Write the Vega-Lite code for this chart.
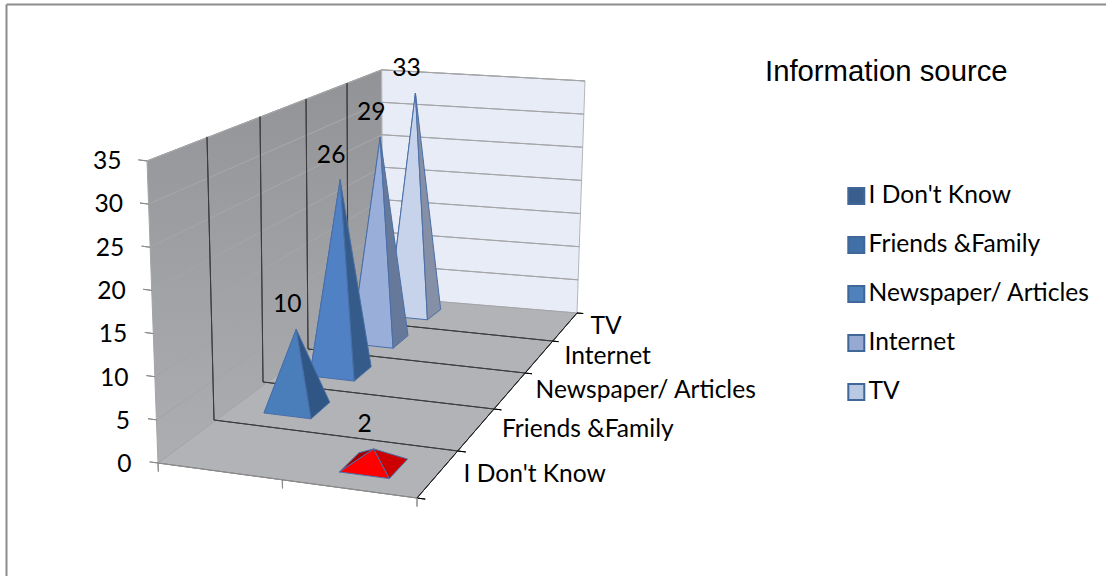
{
"$schema":"https://vega.github.io/schema/vega-lite/v6.json",
"width":1100,"height":572,"autosize":{"type":"none"},"padding":{"left":6,"top":4,"right":0,"bottom":0},
"background":"#ffffff",
"config":{"view":{"stroke":null},"font":"Lato"},
"params":[
{"name":"Lx","value":[158,214,263,308,348,383]},
{"name":"Ly","value":[463,420,382,349,320,297]},
{"name":"Rx","value":[417,458,494,525,552,577]},
{"name":"Ry","value":[498,451,409,373,341,313]},
{"name":"Kv","value":[8.63,8.09,7.58,7.14,6.77,6.49]},
{"name":"Sx","value":[-11,-7,-3,-2,-1,-1.3]},
{"name":"Sources","value":["I Don't Know","Friends &Family","Newspaper/ Articles","Internet","TV"]}
],
"datasets":{
"sources":[
{"source":"TV","value":33,"column":1},
{"source":"Internet","value":29,"column":1},
{"source":"Newspaper/ Articles","value":26,"column":1},
{"source":"Friends &Family","value":10,"column":1},
{"source":"I Don't Know","value":2,"column":2}
],
"structure":[
{"element":"Side wall"},{"element":"Back wall"},{"element":"Floor"},
{"element":"Gridline","level":5},{"element":"Gridline","level":10},{"element":"Gridline","level":15},{"element":"Gridline","level":20},{"element":"Gridline","level":25},{"element":"Gridline","level":30},{"element":"Gridline","level":35},
{"element":"Value tick","level":0},{"element":"Value tick","level":5},{"element":"Value tick","level":10},{"element":"Value tick","level":15},{"element":"Value tick","level":20},{"element":"Value tick","level":25},{"element":"Value tick","level":30},{"element":"Value tick","level":35},
{"element":"Wall divider","level":1},{"element":"Wall divider","level":2},{"element":"Wall divider","level":3},{"element":"Wall divider","level":4},
{"element":"Floor divider","level":1},{"element":"Floor divider","level":2},{"element":"Floor divider","level":3},{"element":"Floor divider","level":4},
{"element":"Depth tick","level":0},{"element":"Depth tick","level":1},{"element":"Depth tick","level":2},{"element":"Depth tick","level":3},{"element":"Depth tick","level":4},{"element":"Depth tick","level":5},
{"element":"Front edge"},{"element":"Right edge"},
{"element":"Column tick","level":0},{"element":"Column tick","level":0.48},{"element":"Column tick","level":1}
]
},
"resolve":{"scale":{"y":"independent"},"axis":{"y":"independent"}},
"layer":[
{"resolve":{"scale":{"fill":"independent"}},
"layer":[
{"data":{"name":"structure"},
"transform":[
{"calculate":"datum.level||0","as":"lv"},
{"calculate":"datum.element=='Side wall'?[[0,0,0],[0,5,0],[0,5,35],[0,0,35]]:datum.element=='Back wall'?[[0,5,0],[1,5,0],[1,5,35],[0,5,35]]:datum.element=='Floor'?[[0,0,0],[1,0,0],[1,5,0],[0,5,0]]:datum.element=='Gridline'?[[0,0,datum.lv],[0,5,datum.lv],[1,5,datum.lv],[0,5,datum.lv]]:datum.element=='Value tick'?[[0,0,datum.lv],[-0.032,0,datum.lv]]:datum.element=='Wall divider'?[[0,datum.lv,0],[0,datum.lv,35]]:datum.element=='Floor divider'?[[0,datum.lv,0],[1,datum.lv,0]]:datum.element=='Depth tick'?[[1,datum.lv,0],[1.032,datum.lv,0]]:datum.element=='Front edge'?[[0,0,0],[1,0,0]]:datum.element=='Right edge'?[[1,0,0],[1,5,0]]:[[datum.lv,0,0],[datum.lv,0,-1]]","as":"path"},
{"flatten":["path"],"as":["p"]},
{"window":[{"op":"row_number","as":"n"}]},
{"calculate":"datum.p[0]","as":"u"},{"calculate":"datum.p[1]","as":"d"},{"calculate":"datum.p[2]","as":"v"},
{"calculate":"min(floor(datum.d),4)","as":"i"},{"calculate":"datum.d-datum.i","as":"f"},
{"calculate":"Lx[datum.i]+(Lx[datum.i+1]-Lx[datum.i])*datum.f","as":"lx"},
{"calculate":"Ly[datum.i]+(Ly[datum.i+1]-Ly[datum.i])*datum.f","as":"ly"},
{"calculate":"Rx[datum.i]+(Rx[datum.i+1]-Rx[datum.i])*datum.f","as":"rx"},
{"calculate":"Ry[datum.i]+(Ry[datum.i+1]-Ry[datum.i])*datum.f","as":"ry"},
{"calculate":"Kv[datum.i]+(Kv[datum.i+1]-Kv[datum.i])*datum.f+0.14*datum.u*datum.d/5","as":"k"},
{"calculate":"Sx[datum.i]+(Sx[datum.i+1]-Sx[datum.i])*datum.f","as":"s"},
{"calculate":"datum.lx+(datum.rx-datum.lx)*datum.u+datum.v/35*(datum.s+(1.6*datum.d-datum.s)*datum.u)","as":"px"},
{"calculate":"datum.ly+(datum.ry-datum.ly)*datum.u-datum.v*datum.k","as":"py"}
],
"mark":{"type":"line","interpolate":"linear-closed","clip":false},
"encoding":{
"x":{"field":"px","type":"quantitative","scale":{"domain":[6,1106],"range":[0,1100]},"axis":{"orient":"top","title":null,"labels":false,"ticks":false,"grid":false,"domain":true,"domainColor":"#8c8c8c","domainWidth":2}},
"y":{"field":"py","type":"quantitative","scale":{"domain":[4,576],"range":[0,572]},"axis":{"orient":"left","title":null,"labels":false,"ticks":false,"grid":false,"domain":true,"domainColor":"#8c8c8c","domainWidth":2}},
"order":{"field":"n","type":"quantitative"},
"detail":[{"field":"element"},{"field":"lv"}],
"fill":{"condition":{"test":"datum.element=='Side wall'","value":{"x1":0,"y1":0,"x2":0,"y2":1,"gradient":"linear","stops":[{"offset":0,"color":"#929396"},{"offset":1,"color":"#adaeb1"}]}},"field":"element","type":"nominal","legend":null,"scale":{"domain":["Side wall","Back wall","Floor","Gridline","Value tick","Wall divider","Floor divider","Depth tick","Front edge","Right edge","Column tick"],"range":["#9c9d9f","#e8ecf6","#b1b3b6","transparent","transparent","transparent","transparent","transparent","transparent","transparent","transparent"]}},
"stroke":{"field":"element","type":"nominal","legend":null,"scale":{"domain":["Side wall","Back wall","Floor","Gridline","Value tick","Wall divider","Floor divider","Depth tick","Front edge","Right edge","Column tick"],"range":["#a3a4a6","#b4b6ba","#a3a4a6","#a4a5a7","#8a8a8a","#3c3c3c","#3c3c3c","#000000","#8a8a8a","#222222","#8a8a8a"]}},
"strokeWidth":{"field":"element","type":"nominal","legend":null,"scale":{"domain":["Side wall","Back wall","Floor","Gridline","Value tick","Wall divider","Floor divider","Depth tick","Front edge","Right edge","Column tick"],"range":[1,1,1,1.2,1.8,1.1,1.1,1.6,1.6,1.4,1.6]}}
}},
{"data":{"name":"sources"},
"transform":[
{"calculate":"indexof(Sources,datum.source)","as":"depth"},
{"calculate":"(datum.column-1)*0.5+0.147","as":"u0"},{"calculate":"datum.u0+0.196","as":"u1"},
{"calculate":"datum.depth+0.3","as":"d0"},{"calculate":"datum.depth+0.72","as":"d1"},
{"calculate":"['Left','Front','Right']","as":"faces"},
{"flatten":["faces"],"as":["face"]},
{"calculate":"[(datum.face=='Left'?[datum.u0,datum.d1,0]:datum.face=='Front'?[datum.u0,datum.d0,0]:[datum.u1,datum.d0,0]),(datum.face=='Left'?[datum.u0,datum.d0,0]:datum.face=='Front'?[datum.u1,datum.d0,0]:[datum.u1,datum.d1,0]),[(datum.u0+datum.u1)/2,(datum.d0+datum.d1)/2,datum.value]]","as":"path"},
{"flatten":["path"],"as":["p"]},
{"window":[{"op":"row_number","as":"n"}]},
{"calculate":"datum.source+' '+datum.face","as":"key"},
{"calculate":"datum.p[0]","as":"u"},{"calculate":"datum.p[1]","as":"d"},{"calculate":"datum.p[2]","as":"v"},
{"calculate":"min(floor(datum.d),4)","as":"i"},{"calculate":"datum.d-datum.i","as":"f"},
{"calculate":"Lx[datum.i]+(Lx[datum.i+1]-Lx[datum.i])*datum.f","as":"lx"},
{"calculate":"Ly[datum.i]+(Ly[datum.i+1]-Ly[datum.i])*datum.f","as":"ly"},
{"calculate":"Rx[datum.i]+(Rx[datum.i+1]-Rx[datum.i])*datum.f","as":"rx"},
{"calculate":"Ry[datum.i]+(Ry[datum.i+1]-Ry[datum.i])*datum.f","as":"ry"},
{"calculate":"Kv[datum.i]+(Kv[datum.i+1]-Kv[datum.i])*datum.f+0.14*datum.u*datum.d/5","as":"k"},
{"calculate":"Sx[datum.i]+(Sx[datum.i+1]-Sx[datum.i])*datum.f","as":"s"},
{"calculate":"datum.lx+(datum.rx-datum.lx)*datum.u+datum.v/35*(datum.s+(1.6*datum.d-datum.s)*datum.u)","as":"px"},
{"calculate":"datum.ly+(datum.ry-datum.ly)*datum.u-datum.v*datum.k","as":"py"}
],
"mark":{"type":"line","interpolate":"linear-closed","stroke":"#4a6fa8","strokeWidth":1,"clip":false},
"encoding":{
"x":{"field":"px","type":"quantitative","scale":{"domain":[6,1106],"range":[0,1100]}},
"y":{"field":"py","type":"quantitative","scale":{"domain":[4,576],"range":[0,572]}},
"order":{"field":"n","type":"quantitative"},
"fill":{"field":"key","type":"nominal","legend":null,"sort":null,"scale":{"domain":["TV Left","TV Front","TV Right","Internet Left","Internet Front","Internet Right","Newspaper/ Articles Left","Newspaper/ Articles Front","Newspaper/ Articles Right","Friends &Family Left","Friends &Family Front","Friends &Family Right","I Don't Know Left","I Don't Know Front","I Don't Know Right"],"range":["#858fa5","#c6d3eb","#858fa5","#66799a","#99aed8","#66799a","#345b8a","#4f81c4","#345b8a","#2f5685","#4a7ebb","#2f5685","#a50000","#ff0000","#cc0000"]}}
}},
{"data":{"name":"sources"},
"transform":[
{"calculate":"indexof(Sources,datum.source)","as":"depth"},
{"calculate":"(datum.column-1)*0.5+0.245","as":"u"},{"calculate":"datum.depth+0.51","as":"d"},{"calculate":"datum.value","as":"v"},
{"calculate":"min(floor(datum.d),4)","as":"i"},{"calculate":"datum.d-datum.i","as":"f"},
{"calculate":"Lx[datum.i]+(Lx[datum.i+1]-Lx[datum.i])*datum.f","as":"lx"},
{"calculate":"Ly[datum.i]+(Ly[datum.i+1]-Ly[datum.i])*datum.f","as":"ly"},
{"calculate":"Rx[datum.i]+(Rx[datum.i+1]-Rx[datum.i])*datum.f","as":"rx"},
{"calculate":"Ry[datum.i]+(Ry[datum.i+1]-Ry[datum.i])*datum.f","as":"ry"},
{"calculate":"Kv[datum.i]+(Kv[datum.i+1]-Kv[datum.i])*datum.f+0.14*datum.u*datum.d/5","as":"k"},
{"calculate":"Sx[datum.i]+(Sx[datum.i+1]-Sx[datum.i])*datum.f","as":"s"},
{"calculate":"datum.lx+(datum.rx-datum.lx)*datum.u+datum.v/35*(datum.s+(1.6*datum.d-datum.s)*datum.u)","as":"px"},
{"calculate":"datum.ly+(datum.ry-datum.ly)*datum.u-datum.v*datum.k","as":"py"}
],
"mark":{"type":"text","font":"Lato","fontSize":24.6,"color":"#000000","dx":-9,"dy":-24,"baseline":"middle","align":"center"},
"encoding":{
"x":{"field":"px","type":"quantitative","scale":{"domain":[6,1106],"range":[0,1100]}},
"y":{"field":"py","type":"quantitative","scale":{"domain":[4,576],"range":[0,572]}},
"text":{"field":"value","type":"quantitative"}
}},
{"data":{"name":"sources"},
"transform":[
{"calculate":"indexof(Sources,datum.source)","as":"depth"},
{"calculate":"datum.depth+0.5","as":"d"},
{"calculate":"floor(datum.d)","as":"i"},
{"calculate":"Rx[datum.i]+(Rx[datum.i+1]-Rx[datum.i])*0.5","as":"px"},
{"calculate":"Ry[datum.i]+(Ry[datum.i+1]-Ry[datum.i])*0.5","as":"py"}
],
"mark":{"type":"text","font":"Lato","fontSize":24.6,"color":"#000000","dx":26,"baseline":"middle","align":"left"},
"encoding":{
"x":{"field":"px","type":"quantitative","scale":{"domain":[6,1106],"range":[0,1100]}},
"y":{"field":"py","type":"quantitative","scale":{"domain":[4,576],"range":[0,572]}},
"text":{"field":"source","type":"nominal"}
}}
]},
{"data":{"name":"sources"},
"mark":{"type":"point","filled":true,"shape":"square","size":0},
"encoding":{
"y":{"field":"value","type":"quantitative","scale":{"domain":[0,35],"range":[460.7,157.5]},
"axis":{"orient":"left","offset":-125,"title":null,"domain":false,"ticks":false,"grid":false,"values":[0,5,10,15,20,25,30,35],"labelFont":"Lato","labelFontSize":24.6,"labelColor":"#000000","labelPadding":0,
"encoding":{"labels":{"dx":{"value":{"signal":"-datum.value*0.286"}}}}}},
"color":{"field":"source","type":"nominal","scale":{"domain":["I Don't Know","Friends &Family","Newspaper/ Articles","Internet","TV"],"range":["#3a5f8e","#4170a8","#4f81bd","#95a9d2","#b9c8e3"]},
"legend":{"orient":"none","legendX":759,"legendY":54,"title":"Information source","titleFont":"Liberation Sans","titleFontSize":29.3,"titleFontWeight":"normal","titleColor":"#000000","titlePadding":96.5,"titleLimit":400,"labelFont":"Lato","labelFontSize":24.6,"labelColor":"#000000","labelLimit":300,"symbolType":"square","symbolSize":256,"symbolOffset":79,"symbolStrokeColor":"#3f6797","symbolStrokeWidth":2,"symbolOpacity":1,"rowPadding":23,"labelOffset":0}}
}}
]
}
